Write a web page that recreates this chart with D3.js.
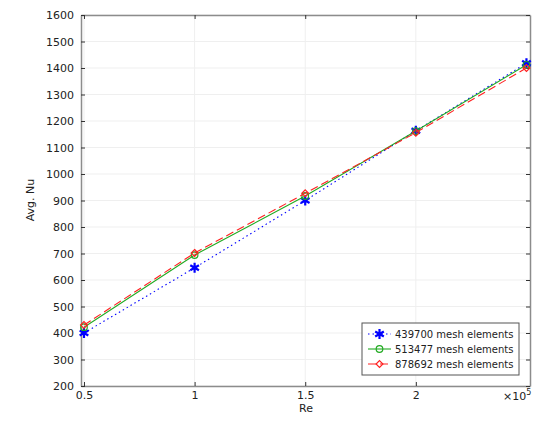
<!DOCTYPE html>
<html>
<head>
<meta charset="utf-8">
<script src="https://cdn.jsdelivr.net/npm/d3@7"></script>
<style>
  body { margin: 0; background: #fff; }
  text { font-family: "DejaVu Sans", sans-serif; }
</style>
</head>
<body>
<div id="chart"></div>
<script>
// values (Re in units of 1e5)
var re = [0.5, 1, 1.5, 2, 2.5];
var mesh1 = [400, 646, 900, 1163, 1418];   // 439700 mesh elements
var mesh2 = [422, 694, 917, 1162, 1412];   // 513477 mesh elements
var mesh3 = [430, 702, 927, 1156, 1400];   // 878692 mesh elements
var seriesNames = ['439700 mesh elements', '513477 mesh elements', '878692 mesh elements'];
var xTicks = [0.5, 1, 1.5, 2];
var yTicks = d3.range(200, 1601, 100);

var width = 560, height = 431;
var mLeft = 81, mRight = 530, mTop = 15, mBottom = 386;

var svg = d3.select('#chart').append('svg')
  .attr('width', width)
  .attr('height', height);

var x = d3.scaleLinear().domain([0.4865, 2.516]).range([mLeft, mRight]);
var y = d3.scaleLinear().domain([200, 1600]).range([mBottom, mTop]);

// grid
svg.append('g').selectAll('line').data(yTicks).enter().append('line')
  .attr('x1', mLeft).attr('x2', mRight)
  .attr('y1', function(d) { return y(d); }).attr('y2', function(d) { return y(d); })
  .attr('stroke', '#efefef').attr('stroke-width', 1);
svg.append('g').selectAll('line').data(xTicks).enter().append('line')
  .attr('y1', mTop).attr('y2', mBottom)
  .attr('x1', function(d) { return x(d); }).attr('x2', function(d) { return x(d); })
  .attr('stroke', '#efefef').attr('stroke-width', 1);

// axes, ticks pointing inward
var axisColor = '#8c8c8c';
var gx = svg.append('g').attr('transform', 'translate(0,' + mBottom + ')')
  .call(d3.axisBottom(x).tickValues(xTicks).tickSizeInner(-4).tickSizeOuter(0).tickPadding(5)
    .tickFormat(function(d) { return d; }));
var gxt = svg.append('g').attr('transform', 'translate(0,' + mTop + ')')
  .call(d3.axisTop(x).tickValues(xTicks).tickSizeInner(-4).tickSizeOuter(0).tickFormat(''));
var gy = svg.append('g').attr('transform', 'translate(' + mLeft + ',0)')
  .call(d3.axisLeft(y).tickValues(yTicks).tickSizeInner(-4).tickSizeOuter(0).tickPadding(7)
    .tickFormat(d3.format('d')));
var gyr = svg.append('g').attr('transform', 'translate(' + mRight + ',0)')
  .call(d3.axisRight(y).tickValues(yTicks).tickSizeInner(-4).tickSizeOuter(0).tickFormat(''));

[gx, gxt, gy, gyr].forEach(function(g) {
  g.select('.domain').attr('stroke', axisColor).attr('stroke-width', 1.5);
  g.selectAll('.tick line').attr('stroke', '#333').attr('stroke-width', 1);
  g.selectAll('text').attr('fill', '#222').style('font-size', '11px')
    .style('font-family', '"DejaVu Sans", sans-serif');
});

// exponent label
svg.append('text').attr('x', 503).attr('y', 400).attr('fill', '#222')
  .style('font-size', '11px')
  .text('\u00d710')
  .append('tspan').attr('dy', -5).style('font-size', '8px').text('5');

// axis titles
svg.append('text').attr('x', 306).attr('y', 412).attr('text-anchor', 'middle')
  .attr('fill', '#222').style('font-size', '11px').text('Re');
svg.append('text').attr('transform', 'translate(34,200) rotate(-90)')
  .attr('text-anchor', 'middle').attr('fill', '#222').style('font-size', '11px').text('Avg. Nu');

var series = [
  { name: seriesNames[0], values: mesh1, color: '#0000ff', dash: '1.5,3', marker: 'star' },
  { name: seriesNames[1], values: mesh2, color: '#22aa22', dash: null, marker: 'circle' },
  { name: seriesNames[2], values: mesh3, color: '#ff2020', dash: '8,4', marker: 'diamond' }
];

var line = d3.line()
  .x(function(d) { return x(d[0]); })
  .y(function(d) { return y(d[1]); });

function drawMarker(g, type, color, cx, cy) {
  if (type == 'star') {
    g.append('path')
      .attr('d', d3.symbol().type(d3.symbolAsterisk).size(70)())
      .attr('transform', 'translate(' + cx + ',' + cy + ')')
      .attr('stroke', color).attr('stroke-width', 2.2).attr('fill', 'none');
  } else if (type == 'circle') {
    g.append('circle').attr('cx', cx).attr('cy', cy).attr('r', 3.3)
      .attr('stroke', color).attr('stroke-width', 1.2).attr('fill', 'none');
  } else {
    g.append('path')
      .attr('d', d3.symbol().type(d3.symbolDiamond2).size(30)())
      .attr('transform', 'translate(' + cx + ',' + cy + ')')
      .attr('stroke', color).attr('stroke-width', 1.2).attr('fill', 'none');
  }
}

series.forEach(function(s) {
  var pts = re.map(function(r, i) { return [r, s.values[i]]; });
  svg.append('path').datum(pts)
    .attr('d', line)
    .attr('fill', 'none')
    .attr('stroke', s.color)
    .attr('stroke-width', 1.1)
    .attr('stroke-dasharray', s.dash);
  var g = svg.append('g');
  pts.forEach(function(p) { drawMarker(g, s.marker, s.color, x(p[0]), y(p[1])); });
});

// legend
var lg = svg.append('g').attr('transform', 'translate(362,323)');
lg.append('rect').attr('width', 157).attr('height', 52)
  .attr('fill', '#fff').attr('stroke', '#555').attr('stroke-width', 1);
series.forEach(function(s, i) {
  var ly = 11 + i * 15;
  lg.append('line').attr('x1', 6).attr('x2', 29).attr('y1', ly).attr('y2', ly)
    .attr('stroke', s.color).attr('stroke-width', 1.1).attr('stroke-dasharray', s.dash);
  drawMarker(lg, s.marker, s.color, 17.5, ly);
  lg.append('text').attr('x', 33).attr('y', ly).attr('dy', '0.35em')
    .attr('fill', '#222').style('font-size', '10px').text(s.name);
});
</script>
</body>
</html>
